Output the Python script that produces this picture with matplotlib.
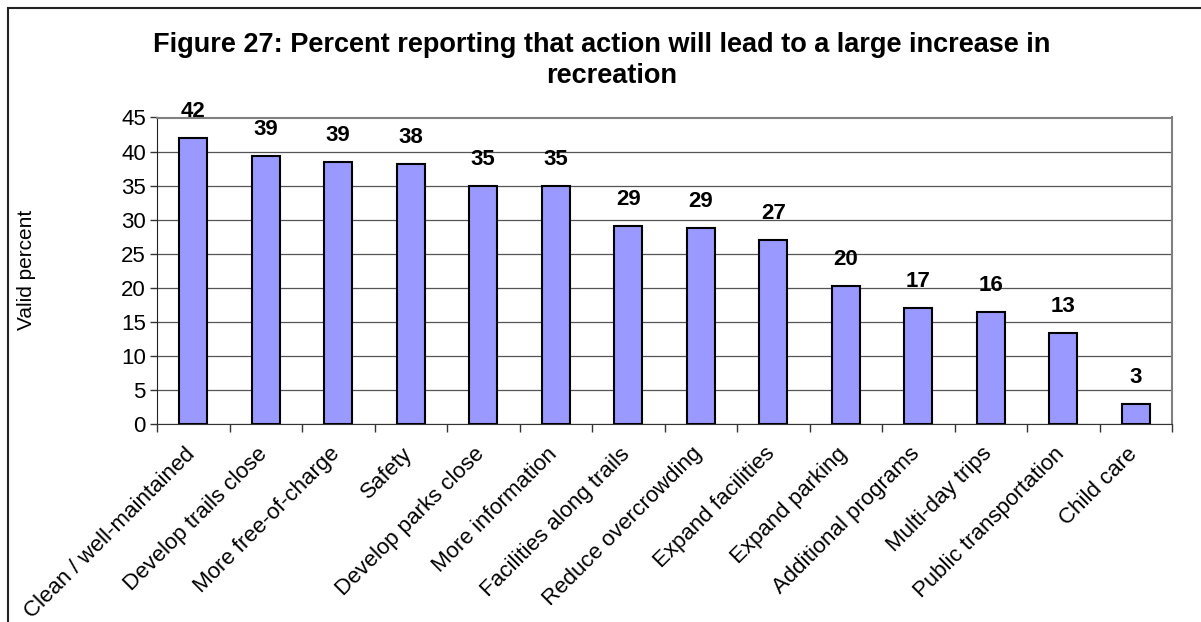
import matplotlib
matplotlib.use("Agg")
import matplotlib.pyplot as plt
from matplotlib.patches import Rectangle
import matplotlib.transforms as mtransforms
import numpy as np

plt.rcParams['font.family'] = ['Liberation Sans', 'DejaVu Sans']

categories = ["Clean / well-maintained", "Develop trails close", "More free-of-charge",
              "Safety", "Develop parks close", "More information", "Facilities along trails",
              "Reduce overcrowding", "Expand facilities", "Expand parking",
              "Additional programs", "Multi-day trips", "Public transportation", "Child care"]
values = [42.0, 39.35, 38.5, 38.2, 35.0, 35.0, 29.1, 28.8, 27.0, 20.3, 17.1, 16.4, 13.3, 2.95]
labels = ["42", "39", "39", "38", "35", "35", "29", "29", "27", "20", "17", "16", "13", "3"]
yticks = [0, 5, 10, 15, 20, 25, 30, 35, 40, 45]

W, H = 1201, 622
fig = plt.figure(figsize=(W / 100, H / 100), dpi=100)
ax = fig.add_axes([157 / W, 1 - 424 / H, (1172 - 157) / W, (424 - 117.5) / H])

x = np.arange(len(categories))
ax.bar(x, values, width=0.39, color="#9999FF", edgecolor="black", linewidth=1.5, zorder=3)
for xi, v, lab in zip(x, values, labels):
    ax.annotate(lab, (xi, v), xytext=(0, 11.5), textcoords="offset points",
                ha="center", va="bottom", fontsize=16, fontweight="bold", zorder=4)

ax.set_xlim(-0.5, len(categories) - 0.5)
ax.set_ylim(0, 45)
ax.set_yticks(yticks)
ax.set_yticklabels([str(t) for t in yticks], fontsize=16)
ax.yaxis.grid(True, color="#555555", linewidth=0.9, zorder=0)
ax.tick_params(axis="y", length=5, width=1, color="#333333", pad=3)

ax.set_xticks(x)
ax.set_xticklabels(categories, rotation=45, ha="right", rotation_mode="anchor", fontsize=16)
ax.tick_params(axis="x", which="major", length=0, pad=14)
ax.set_xticks(np.arange(len(categories) + 1) - 0.5, minor=True)
ax.tick_params(axis="x", which="minor", length=6, width=1, color="#333333")
offset = mtransforms.ScaledTranslation(-9 / 100, 0, fig.dpi_scale_trans)
for t in ax.get_xticklabels():
    t.set_transform(t.get_transform() + offset)

for s in ["top", "right"]:
    ax.spines[s].set_color("#808080")
    ax.spines[s].set_linewidth(1.5)
ax.spines["left"].set_color("#222222")
ax.spines["bottom"].set_color("#333333")

fig.text(27 / W, 1 - 270 / H, "Valid percent", rotation=90, ha="center", va="center", fontsize=15)
fig.text(602 / W, 1 - 45 / H, "Figure 27: Percent reporting that action will lead to a large increase in",
         ha="center", va="center", fontsize=19.5, fontweight="bold")
fig.text(612 / W, 1 - 76 / H, "recreation", ha="center", va="center", fontsize=19.5, fontweight="bold")

fig.add_artist(Rectangle((7.5 / W, -0.1), 1.2, 1 - 8 / H + 0.1, transform=fig.transFigure,
                         fill=False, edgecolor="#222222", linewidth=1.5))

fig.savefig("out.png", dpi=100)
